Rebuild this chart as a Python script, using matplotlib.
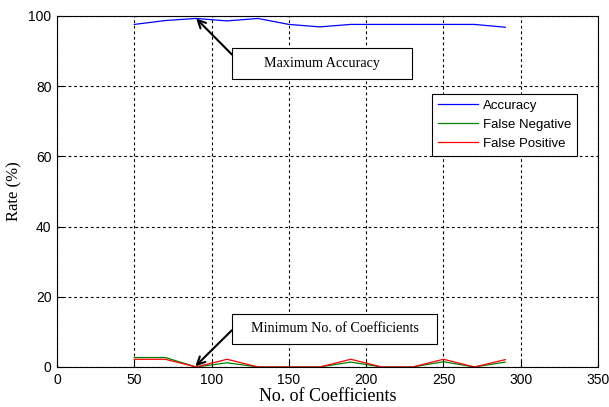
import matplotlib.pyplot as plt
from matplotlib.patches import Rectangle

# number of coefficients and the three rates (%)
coeffs = [50, 70, 90, 110, 130, 150, 170, 190, 210, 230, 250, 270, 290]
accuracy = [97.6, 98.7, 99.3, 98.6, 99.3, 97.6, 96.9, 97.6, 97.6, 97.6, 97.6, 97.6, 96.8]
false_neg = [2.7, 2.7, 0.0, 1.2, 0.0, 0.0, 0.0, 1.4, 0.0, 0.0, 1.5, 0.0, 1.4]
false_pos = [2.2, 2.2, 0.0, 2.2, 0.0, 0.0, 0.0, 2.2, 0.0, 0.0, 2.2, 0.0, 2.1]

xticks = [0, 50, 100, 150, 200, 250, 300, 350]
yticks = [0, 20, 40, 60, 80, 100]

fig = plt.figure(figsize=(6.09, 4.07), dpi=100)
ax = fig.add_axes([0.0936, 0.0983, 0.8884, 0.8624])

ax.plot(coeffs, accuracy, color='#0000ff', lw=0.9, label='Accuracy')
ax.plot(coeffs, false_neg, color='#008000', lw=0.9, label='False Negative')
ax.plot(coeffs, false_pos, color='#ff0000', lw=0.9, label='False Positive')

ax.set_xlim(0, 350)
ax.set_ylim(0, 100)
ax.set_xticks(xticks)
ax.set_yticks(yticks)
ax.tick_params(direction='in', length=4, labelsize=10, width=0.8, pad=4)
for lab in ax.get_xticklabels() + ax.get_yticklabels():
    lab.set_family('Liberation Sans')
ax.grid(True, color='black', linestyle=(0, (2.5, 2.5)), lw=0.8)

ax.set_xlabel('No. of Coefficients', family='Liberation Serif', fontsize=13, labelpad=1)
ax.set_ylabel('Rate (%)', family='Liberation Serif', fontsize=12)
ax.yaxis.set_label_coords(-0.064, 0.5)

leg = ax.legend(loc='upper right', bbox_to_anchor=(0.974, 0.797),
                prop={'family': 'Liberation Sans', 'size': 9.5},
                fancybox=False, framealpha=1, edgecolor='black',
                handlelength=3.0, handletextpad=0.4, borderpad=0.45,
                labelspacing=0.5)
leg.get_frame().set_linewidth(0.8)


def callout(x0, y0, x1, y1, text, tail, tip):
    # boxed label with an arrow pointing at the marked point
    ax.add_patch(Rectangle((x0, y0), x1 - x0, y1 - y0, fc='white', ec='black',
                           lw=0.8, zorder=4))
    ax.text((x0 + x1) / 2, (y0 + y1) / 2, text, ha='center', va='center',
            family='Liberation Serif', fontsize=10.2, zorder=5)
    ax.annotate('', xy=tip, xytext=tail, zorder=6,
                arrowprops=dict(arrowstyle='->', color='black', lw=1.5,
                                mutation_scale=14, shrinkA=0, shrinkB=0))


callout(113.2, 82.0, 229.6, 90.9, 'Maximum Accuracy', (113.2, 89.0), (90, 99.3))
callout(113.2, 6.55, 245.8, 15.1, 'Minimum No. of Coefficients', (113.2, 10.5), (89.5, 0.2))

plt.savefig('out.png', dpi=100)
